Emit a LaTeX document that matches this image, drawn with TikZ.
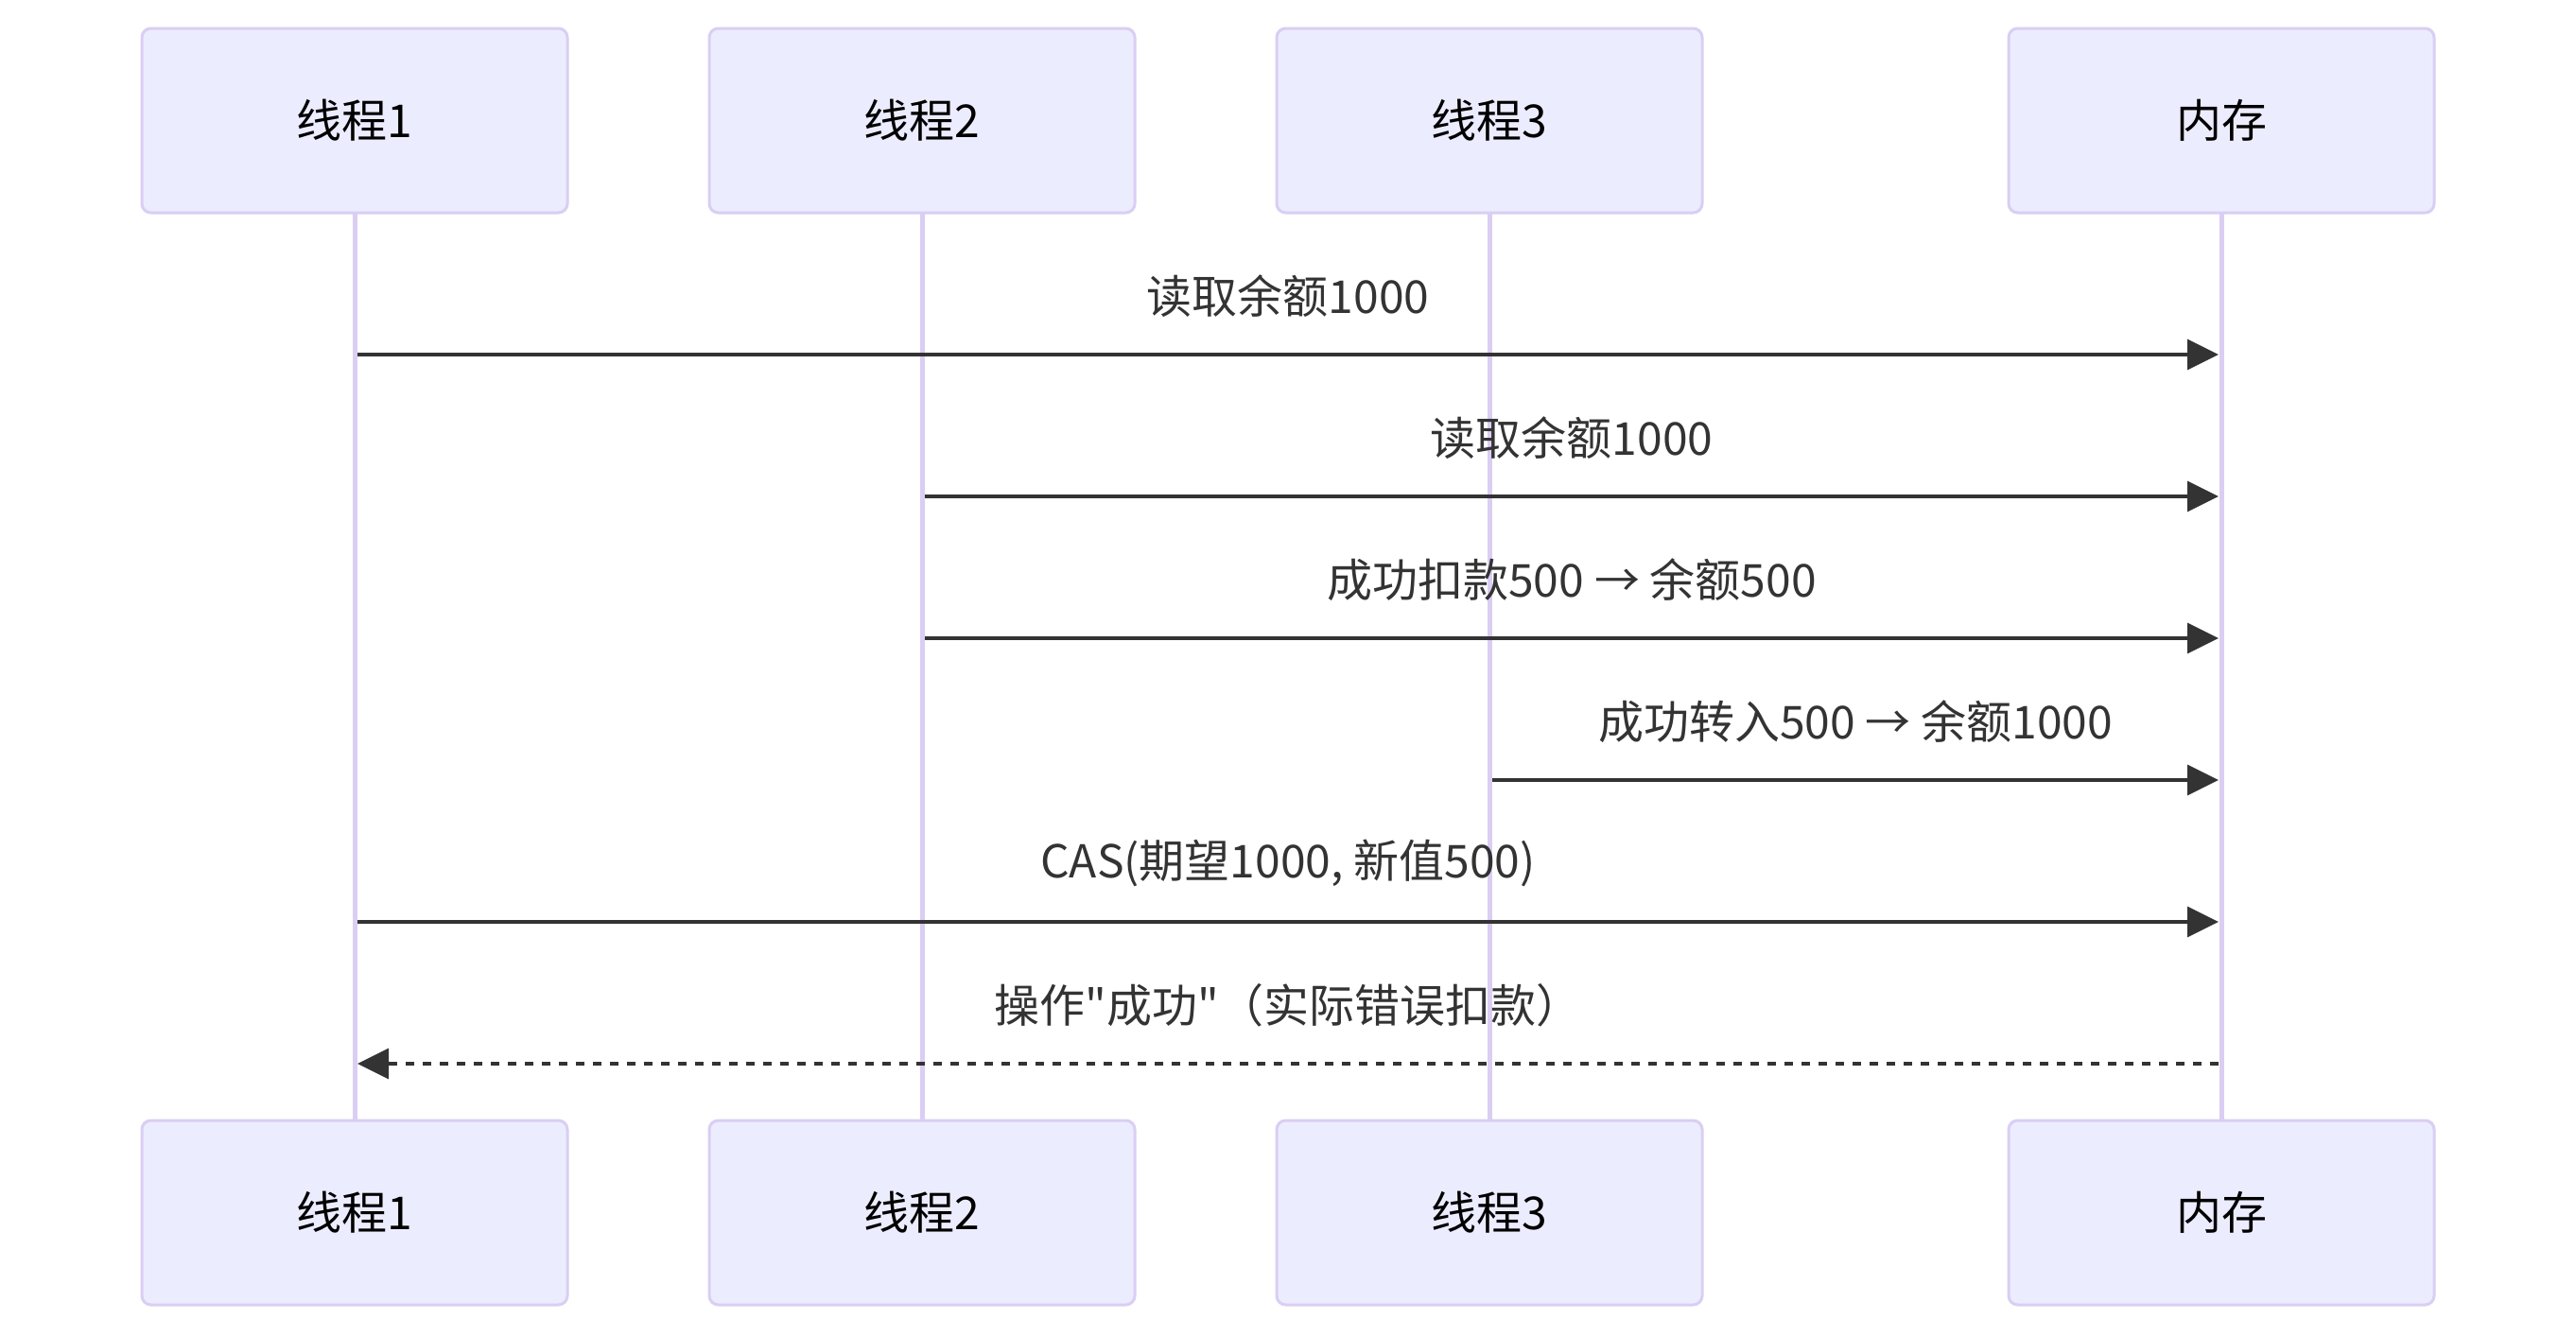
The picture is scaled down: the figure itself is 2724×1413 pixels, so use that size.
\documentclass[tikz,border=0pt]{standalone}
\usepackage{fontspec}
\setmainfont{Noto Sans CJK SC}[Ligatures=TeXOff]
\usetikzlibrary{arrows.meta}
\definecolor{actfill}{HTML}{ECECFF}
\definecolor{actline}{HTML}{DACEF3}
\definecolor{msgcol}{HTML}{333333}
\tikzset{
  actor/.style={draw=actline, fill=actfill, line width=0.75pt, rounded corners=2.4pt,
    minimum width=112.5pt, minimum height=48.75pt, inner sep=0pt, text=black,
    font=\fontsize{12pt}{14pt}\selectfont},
  lifeline/.style={draw=actline, line width=1.25pt},
  msg/.style={draw=msgcol, line width=0.8pt, -{Triangle[length=8.25pt,width=8pt]},
    shorten >=0.75pt, shorten <=0.75pt},
  reply/.style={msg, dash pattern=on 2.25pt off 2.25pt},
  lbl/.style={text=msgcol, inner sep=0pt, font=\fontsize{12pt}{14pt}\selectfont}
}
\begin{document}
\begin{tikzpicture}[x=0.25pt, y=-0.25pt]
\useasboundingbox (0,0) rectangle (2724,1413);
% coordinates for rows
\coordinate (r1) at (0,375);
\coordinate (r2) at (0,525);
\coordinate (r3) at (0,675);
\coordinate (r4) at (0,825);
\coordinate (r5) at (0,975);
\coordinate (r6) at (0,1125);
% lifelines (drawn first, behind boxes)
\coordinate (l1t) at (375,225);  \coordinate (l1b) at (375,1184);
\coordinate (l2t) at (975,225);  \coordinate (l2b) at (975,1184);
\coordinate (l3t) at (1575,225); \coordinate (l3b) at (1575,1184);
\coordinate (l4t) at (2349,225); \coordinate (l4b) at (2349,1184);
\draw[lifeline] (l1t) -- (l1b);
\draw[lifeline] (l2t) -- (l2b);
\draw[lifeline] (l3t) -- (l3b);
\draw[lifeline] (l4t) -- (l4b);
% actors
\node[actor] (t1) at (375,127.5) {线程1};
\node[actor] (t2) at (975,127.5) {线程2};
\node[actor] (t3) at (1575,127.5) {线程3};
\node[actor] (mem) at (2349,127.5) {内存};
\node[actor] (t1b) at (375,1282.5) {线程1};
\node[actor] (t2b) at (975,1282.5) {线程2};
\node[actor] (t3b) at (1575,1282.5) {线程3};
\node[actor] (memb) at (2349,1282.5) {内存};
% messages
\draw[msg] (t1 |- r1) -- (mem |- r1);
\node[lbl] (m1) at (1362,313) {读取余额1000};
\draw[msg] (t2 |- r2) -- (mem |- r2);
\node[lbl] (m2) at (1662,463) {读取余额1000};
\draw[msg] (t2 |- r3) -- (mem |- r3);
\node[lbl] (m3) at (1662,613) {成功扣款500 → 余额500};
\draw[msg] (t3 |- r4) -- (mem |- r4);
\node[lbl] (m4) at (1962,763) {成功转入500 → 余额1000};
\draw[msg] (t1 |- r5) -- (mem |- r5);
\node[lbl] (m5) at (1362,913) {CAS(期望1000, 新值500)};
\draw[reply] (mem |- r6) -- (t1 |- r6);
\node[lbl] (m6) at (1362,1063) {操作"成功"（实际错误扣款）};
\end{tikzpicture}
\end{document}
